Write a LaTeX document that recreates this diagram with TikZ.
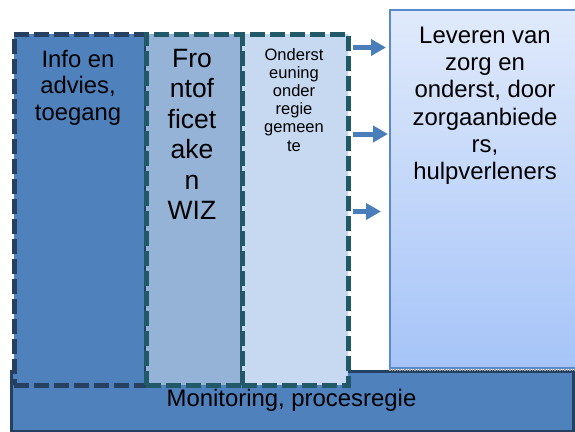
\documentclass[tikz,border=0pt]{standalone}
\usepackage{fontspec}
\setmainfont{Liberation Sans}
\usetikzlibrary{arrows.meta}
\definecolor{colA}{HTML}{4F81BD}
\definecolor{colB}{HTML}{95B3D7}
\definecolor{colC}{HTML}{C6D9F1}
\definecolor{navyB}{HTML}{254061}
\definecolor{tealB}{HTML}{215968}
\definecolor{arrowc}{HTML}{4A7EBB}
\definecolor{rightb}{HTML}{5A8ACB}
\definecolor{rtop}{HTML}{E0EAFB}
\definecolor{rbot}{HTML}{A6C4F8}
\begin{document}
\begin{tikzpicture}[x=1pt,y=-1pt,
  panel/.style={line width=4.8pt, dash pattern=on 15pt off 5pt, inner sep=0pt, anchor=north west, minimum height=351pt},
  lbl/.style={align=center, anchor=base, inner sep=0pt, text=black},
  flow/.style={draw=arrowc, line width=5pt, -{Triangle[length=15pt,width=16pt]}, shorten <=2pt},
]
\useasboundingbox (0,0) rectangle (575,431);
% monitoring bar
\node[draw=navyB, fill=colA, line width=2.5pt, minimum width=562pt, minimum height=60pt, anchor=north west, inner sep=0pt] (mon) at (10,370) {};
% right box
\node[draw=rightb, line width=1.5pt, top color=rtop, bottom color=rbot, minimum width=191pt, minimum height=358pt, anchor=north west, inner sep=0pt] (lev) at (389,9) {};
\draw[gray!70, line width=1.5pt, densely dotted] ([yshift=-1.5pt]lev.south west) -- ([yshift=-1.5pt]lev.south east);
% columns
\node[panel, draw=navyB, fill=colA, minimum width=132pt] (info) at (12,32) {};
\node[panel, draw=tealB, fill=colB, minimum width=96pt] (front) at (144,32) {};
\node[panel, draw=tealB, fill=colC, minimum width=106pt] (onder) at (240,32) {};
% arrows
\draw[flow, shorten >=3pt] (onder.east |- 0,47.5) -- (lev.west |- 0,47.5);
\draw[flow, shorten >=1pt] (onder.east |- 0,134) -- (lev.west |- 0,134);
\draw[flow, shorten >=8pt] (onder.east |- 0,211.5) -- (lev.west |- 0,211.5);
% texts (base anchor = baseline of last line)
\node[lbl, font=\fontsize{23.8}{26.5}\selectfont] (infot) at (78,120) {Info en\\advies,\\toegang};
\node[lbl, font=\fontsize{26.5}{30.5}\selectfont] (frontt) at (192,219.8) {Fro\\ntof\\ficet\\ake\\n\\WIZ};
\node[lbl, font=\fontsize{16.5}{18.2}\selectfont] (ondert) at (294,151) {Onderst\\euning\\onder\\regie\\gemeen\\te};
\node[lbl, font=\fontsize{23.9}{27.3}\selectfont] (levt) at (485,179.8) {Leveren van\\zorg en\\onderst, door\\zorgaanbiede\\rs,\\hulpverleners};
\node[lbl, font=\fontsize{23.9}{28}\selectfont] (mont) at (291.5,406) {Monitoring, procesregie};
\end{tikzpicture}
\end{document}
